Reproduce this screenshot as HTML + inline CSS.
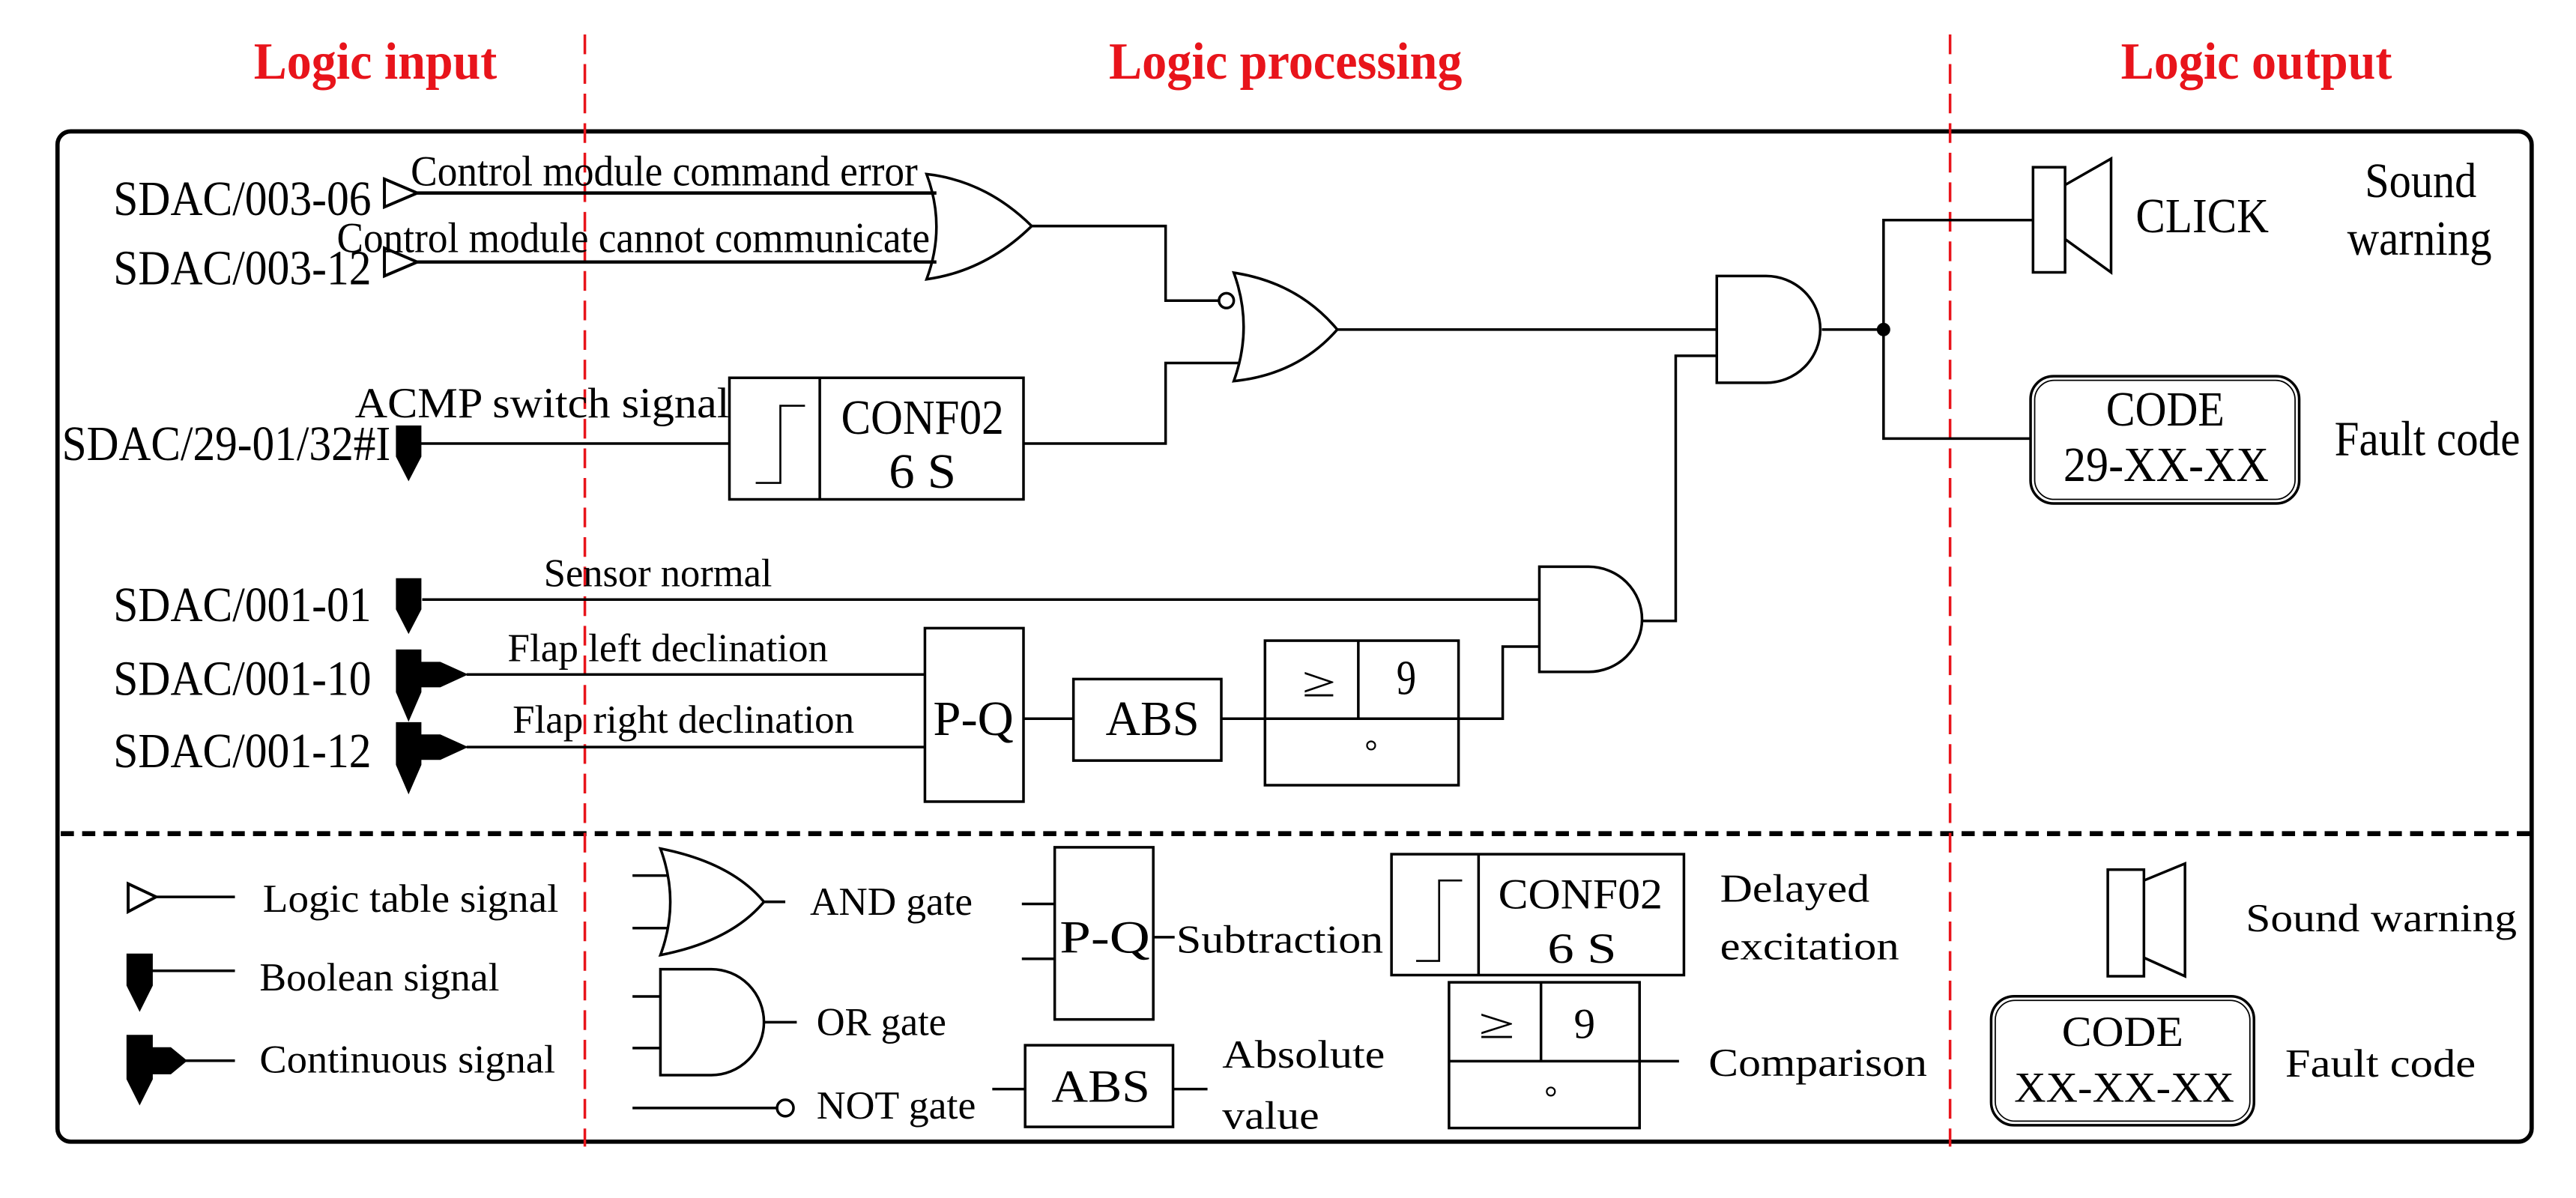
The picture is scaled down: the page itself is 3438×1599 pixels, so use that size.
<!DOCTYPE html>
<html><head><meta charset="utf-8"><style>
html,body{margin:0;padding:0;background:#fff;}
svg{display:block;}
svg text{font-family:"Liberation Serif","Times New Roman",Times,serif;}
</style></head><body>
<svg width="3438" height="1599" viewBox="0 0 1568 729.3" preserveAspectRatio="none" xmlns="http://www.w3.org/2000/svg" font-family="Liberation Serif, Times New Roman, serif">
<defs>
<path id="boo" d="M0,0 H15.5 V19 L7.7,34 L0,19 Z" fill="#000"/>
<path id="con" d="M0,0 H15.5 V7.5 H27 L44,15.2 L27,23 H15.5 V26 L7.7,44 L0,26 Z" fill="#000"/>
</defs>
<g font-weight="bold" font-size="32" font-family="Liberation Serif, serif">
<text x="154.5" y="48" textLength="148" lengthAdjust="spacingAndGlyphs" fill="#e8141b">Logic input</text>
<text x="675" y="48" textLength="215" lengthAdjust="spacingAndGlyphs" fill="#e8141b">Logic processing</text>
<text x="1291" y="48" textLength="165" lengthAdjust="spacingAndGlyphs" fill="#e8141b">Logic output</text>
</g>
<rect x="35" y="80" width="1506" height="615" rx="8" fill="none" stroke="#000" stroke-width="2.6"/>
<line x1="37" y1="507.5" x2="1540" y2="507.5" stroke="#000" stroke-width="3" stroke-dasharray="8,5"/>
<line x1="356" y1="21" x2="356" y2="698" stroke="#e8141b" stroke-width="1.6" stroke-dasharray="12,6"/>
<line x1="1187" y1="21" x2="1187" y2="698" stroke="#e8141b" stroke-width="1.6" stroke-dasharray="12,6"/>

<g fill="none" stroke="#000" stroke-width="1.6">
<path d="M234,109 L254,117.5 L234,126 Z" stroke-width="1.8"/>
<path d="M234,151 L254,159.5 L234,168 Z" stroke-width="1.8"/>
<line x1="254" y1="117.5" x2="570" y2="117.5" stroke-width="2"/>
<line x1="254" y1="159.5" x2="570" y2="159.5" stroke-width="2"/>
<path d="M564,106 Q600,110 628,137.6 Q600,165 564,170 Q576,138 564,106 Z"/>
<polyline points="628,137.6 709.5,137.6 709.5,183 742,183"/>
<circle cx="746.5" cy="183" r="4.5"/>
<path d="M751,166 Q790,172 814,200.6 Q790,228 751,232 Q763,199 751,166 Z"/>
<polyline points="623,270 709.5,270 709.5,221 755,221"/>
<rect x="444" y="230" width="179" height="74"/>
<line x1="499" y1="230" x2="499" y2="304"/>
<polyline points="460,294 475,294 475,247 490,247" stroke-width="1.2"/>
<line x1="256" y1="270" x2="444" y2="270"/>
<line x1="814" y1="200.6" x2="1045" y2="200.6"/>
<path d="M1045,168 H1075 A33,32.5 0 0 1 1075,233 H1045 Z"/>
<polyline points="1109,200.6 1146.5,200.6"/>
<circle cx="1146.5" cy="200.6" r="3.3" fill="#000"/>
<polyline points="1237.5,134 1146.5,134 1146.5,267 1236,267"/>
<rect x="1237.5" y="101.8" width="19.5" height="64"/>
<polyline points="1257,112.6 1285,96.6 1285,165.8 1257,145.6"/>
<rect x="1236" y="229" width="163.5" height="77.5" rx="14"/>
<rect x="1238.5" y="231.5" width="158.5" height="72.5" rx="12" stroke-width="0.8"/>
<line x1="257" y1="365" x2="937" y2="365"/>
<path d="M937,345 H967 A32.5,32 0 0 1 967,409 H937 Z"/>
<polyline points="999.6,378 1020,378 1020,216.6 1045,216.6"/>
<polyline points="887.8,437.5 914.7,437.5 914.7,393.6 937,393.6"/>
<line x1="284" y1="410.6" x2="563" y2="410.6"/>
<line x1="284" y1="454.8" x2="563" y2="454.8"/>
<rect x="563" y="382.4" width="60" height="105.6"/>
<line x1="623" y1="437.5" x2="653.4" y2="437.5"/>
<rect x="653.4" y="413.4" width="90" height="49.6"/>
<line x1="743.5" y1="437.5" x2="770" y2="437.5"/>
<rect x="770" y="390" width="117.8" height="88"/>
<line x1="770" y1="437.5" x2="887.8" y2="437.5"/>
<line x1="826.8" y1="390" x2="826.8" y2="437.5"/>
<circle cx="834.6" cy="453.8" r="2.5" stroke-width="1"/>
</g>
<use href="#boo" x="241" y="259"/>
<use href="#boo" x="241" y="352"/>
<use href="#con" x="241" y="395.4"/>
<use href="#con" x="241" y="439.6"/>

<g font-size="30" font-family="Liberation Serif, serif">
<text x="69" y="131" textLength="157" lengthAdjust="spacingAndGlyphs">SDAC/003-06</text>
<text x="69" y="173" textLength="157" lengthAdjust="spacingAndGlyphs">SDAC/003-12</text>
<text x="37.7" y="280" textLength="200" lengthAdjust="spacingAndGlyphs">SDAC/29-01/32#I</text>
<text x="69" y="378" textLength="157" lengthAdjust="spacingAndGlyphs">SDAC/001-01</text>
<text x="69" y="423" textLength="157" lengthAdjust="spacingAndGlyphs">SDAC/001-10</text>
<text x="69" y="467" textLength="157" lengthAdjust="spacingAndGlyphs">SDAC/001-12</text>
<text x="512" y="264" textLength="99" lengthAdjust="spacingAndGlyphs">CONF02</text>
<text x="541" y="297" textLength="41" lengthAdjust="spacingAndGlyphs">6  S</text>
<text x="568" y="447.4" textLength="49" lengthAdjust="spacingAndGlyphs">P-Q</text>
<text x="673" y="447.4" textLength="57" lengthAdjust="spacingAndGlyphs">ABS</text>
<text x="792.6" y="424" font-size="26" textLength="20.5" lengthAdjust="spacingAndGlyphs">≥</text>
<text x="850" y="422.5" textLength="12" lengthAdjust="spacingAndGlyphs">9</text>
<text x="1300" y="141.5" textLength="81" lengthAdjust="spacingAndGlyphs">CLICK</text>
<text x="1439.5" y="120" textLength="68" lengthAdjust="spacingAndGlyphs">Sound</text>
<text x="1428.7" y="155" textLength="88" lengthAdjust="spacingAndGlyphs">warning</text>
<text x="1282" y="259" textLength="72" lengthAdjust="spacingAndGlyphs">CODE</text>
<text x="1256" y="292.8" textLength="125" lengthAdjust="spacingAndGlyphs">29-XX-XX</text>
<text x="1421" y="277" textLength="113" lengthAdjust="spacingAndGlyphs">Fault code</text>
</g>
<g font-size="26" font-family="Liberation Serif, serif">
<text x="250" y="113" textLength="308.6" lengthAdjust="spacingAndGlyphs">Control module command error</text>
<text x="205" y="153.5" textLength="361" lengthAdjust="spacingAndGlyphs">Control module cannot communicate</text>
<text x="216" y="254" textLength="228" lengthAdjust="spacingAndGlyphs">ACMP switch signal</text>
<text x="331" y="357" font-size="24" textLength="139" lengthAdjust="spacingAndGlyphs">Sensor normal</text>
<text x="309" y="402.5" font-size="24" textLength="195" lengthAdjust="spacingAndGlyphs">Flap left declination</text>
<text x="312" y="446" font-size="24" textLength="208" lengthAdjust="spacingAndGlyphs">Flap right declination</text>
</g>

<g fill="none" stroke="#000" stroke-width="1.6">
<path d="M78,538 L95,546 L78,555 Z" stroke-width="1.8"/>
<line x1="95" y1="546" x2="143" y2="546"/>
<line x1="92" y1="591" x2="143" y2="591"/>
<line x1="112" y1="645.7" x2="143" y2="645.7"/>
<path d="M402,516.6 Q445,525 465,549 Q445,573 402,581.4 Q414,549 402,516.6 Z"/>
<line x1="385" y1="533" x2="407" y2="533"/>
<line x1="385" y1="565" x2="407" y2="565"/>
<line x1="465" y1="549" x2="478" y2="549"/>
<path d="M402,590 H433 A32,32.25 0 0 1 433,654.5 H402 Z"/>
<line x1="385" y1="606.6" x2="402" y2="606.6"/>
<line x1="385" y1="638" x2="402" y2="638"/>
<line x1="465" y1="622.3" x2="485" y2="622.3"/>
<line x1="385" y1="674.5" x2="473" y2="674.5"/>
<circle cx="478" cy="674.5" r="5"/>
<rect x="642" y="515.8" width="60" height="104.8"/>
<line x1="622" y1="550.3" x2="642" y2="550.3"/>
<line x1="622" y1="583.7" x2="642" y2="583.7"/>
<line x1="702" y1="570.5" x2="715" y2="570.5"/>
<rect x="847" y="520" width="178" height="73.6"/>
<line x1="900" y1="520" x2="900" y2="593.6"/>
<polyline points="862,585 876,585 876,536 890,536" stroke-width="1.2"/>
<rect x="882" y="598" width="116" height="88.7"/>
<line x1="882" y1="646" x2="1022" y2="646"/>
<line x1="938" y1="598" x2="938" y2="646"/>
<circle cx="944" cy="664.5" r="2.5" stroke-width="1"/>
<rect x="624" y="636.3" width="90" height="49.7"/>
<line x1="604" y1="663" x2="624" y2="663"/>
<line x1="714" y1="663" x2="735" y2="663"/>
<rect x="1283" y="529.4" width="22" height="64.9"/>
<polyline points="1305,536 1330,525.7 1330,594.3 1305,583"/>
<rect x="1212" y="606.5" width="160" height="78.5" rx="14"/>
<rect x="1214.5" y="609" width="155" height="73.5" rx="12" stroke-width="0.8"/>
</g>
<g fill="#000">
<path d="M77,580.5 H93 V600 L85,616 L77,600 Z"/>
<path d="M77,630 H93 V637.5 H104 L114,645.7 L104,654 H93 V657 L85,673 L77,657 Z"/>
</g>
<g font-size="24" font-family="Liberation Serif, serif">
<text x="160" y="555" textLength="180" lengthAdjust="spacingAndGlyphs">Logic table  signal</text>
<text x="158" y="603" textLength="146" lengthAdjust="spacingAndGlyphs">Boolean signal</text>
<text x="158" y="653" textLength="180" lengthAdjust="spacingAndGlyphs">Continuous  signal</text>
<text x="493" y="557" textLength="99" lengthAdjust="spacingAndGlyphs">AND gate</text>
<text x="497" y="630" textLength="79" lengthAdjust="spacingAndGlyphs">OR gate</text>
<text x="497" y="681" textLength="97" lengthAdjust="spacingAndGlyphs">NOT gate</text>
<text x="716" y="580" textLength="126" lengthAdjust="spacingAndGlyphs">Subtraction</text>
<text x="1047" y="549" textLength="91" lengthAdjust="spacingAndGlyphs">Delayed</text>
<text x="1047" y="584" textLength="109" lengthAdjust="spacingAndGlyphs">excitation</text>
<text x="744" y="650" textLength="99" lengthAdjust="spacingAndGlyphs">Absolute</text>
<text x="744" y="687" textLength="59" lengthAdjust="spacingAndGlyphs">value</text>
<text x="1040" y="655" textLength="133" lengthAdjust="spacingAndGlyphs">Comparison</text>
<text x="1367" y="567" textLength="165" lengthAdjust="spacingAndGlyphs">Sound warning</text>
<text x="1391" y="655.5" textLength="116" lengthAdjust="spacingAndGlyphs">Fault code</text>
<text x="645" y="580" font-size="28" textLength="55" lengthAdjust="spacingAndGlyphs">P-Q</text>
<text x="640" y="670.6" font-size="28" textLength="60" lengthAdjust="spacingAndGlyphs">ABS</text>
<text x="912" y="553" font-size="26" textLength="100" lengthAdjust="spacingAndGlyphs">CONF02</text>
<text x="942" y="586" font-size="26" textLength="42" lengthAdjust="spacingAndGlyphs">6  S</text>
<text x="900" y="632" font-size="26" textLength="22" lengthAdjust="spacingAndGlyphs">≥</text>
<text x="958" y="632" font-size="26" textLength="13" lengthAdjust="spacingAndGlyphs">9</text>
<text x="1255" y="636.6" font-size="26" textLength="74" lengthAdjust="spacingAndGlyphs">CODE</text>
<text x="1226" y="670.6" font-size="26" textLength="134" lengthAdjust="spacingAndGlyphs">XX-XX-XX</text>
</g>
</svg>
</body></html>
